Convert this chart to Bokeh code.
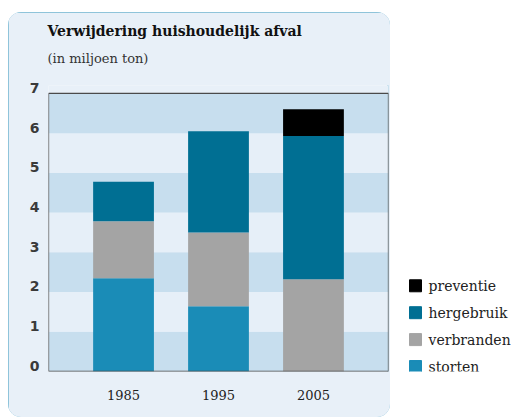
from bokeh.plotting import figure
from bokeh.models import (ColumnDataSource, FactorRange, Range1d, BoxAnnotation,
                          Title, FixedTicker, LinearAxis)
from bokeh.core.properties import value
from bokeh.layouts import row
from bokeh.embed import file_html
from bokeh.resources import INLINE

# ---- data ----
years = ["1985", "1995", "2005"]
storten = [2.35, 1.64, 0.0]
verbranden = [1.43, 1.86, 2.32]
hergebruik = [1.00, 2.55, 3.61]
preventie = [0.0, 0.0, 0.67]
series = ["storten", "verbranden", "hergebruik", "preventie"]
colors = ["#1a8cb7", "#a4a4a4", "#006f93", "#000000"]
y_ticks = [0, 1, 2, 3, 4, 5, 6, 7]
title_text = "Verwijdering huishoudelijk afval"
subtitle_text = "(in miljoen ton)"

BOX_BG = "#e8f0f8"
BAND_DARK = "#c7deee"
BAND_LIGHT = "#e6eff8"
Y_TOP = 7.2        # frame reaches a little above the top band
LABEL_SHIFT = 0.14  # tick labels sit slightly above their band edge

source = ColumnDataSource(dict(year=years, storten=storten, verbranden=verbranden,
                               hergebruik=hergebruik, preventie=preventie))

p = figure(width=382, height=405, output_backend="svg", toolbar_location=None,
           x_range=FactorRange(factors=years, range_padding=0.29,
                               range_padding_units="absolute", factor_padding=0),
           y_range=Range1d(0, Y_TOP), y_axis_location=None,
           min_border_left=40, min_border_right=2, min_border_top=73, min_border_bottom=46)
p.margin = (12, 0, 0, 8)
p.styles = {"border-radius": "13px", "overflow": "hidden",
            "outline": "3px solid #72b6d1", "outline-offset": "-3px"}
p.border_fill_color = BOX_BG
p.background_fill_color = BOX_BG
p.outline_line_color = None
p.grid.visible = False

for i in range(len(y_ticks) - 1):
    p.add_layout(BoxAnnotation(bottom=y_ticks[i], top=y_ticks[i + 1],
                               fill_color=BAND_DARK if i % 2 == 0 else BAND_LIGHT,
                               fill_alpha=1, line_color=None, level="underlay"))
p.add_layout(BoxAnnotation(bottom=y_ticks[0], top=y_ticks[-1], fill_color=None,
                           line_color="#4a4a4a", line_alpha=1, line_width=1.3,
                           level="overlay"))

p.vbar_stack(series, x="year", width=0.64, color=colors, line_color=None, source=source)

# y axis on a slightly shifted range so labels sit a bit above the band edges
p.extra_y_ranges = {"lab": Range1d(-LABEL_SHIFT, Y_TOP - LABEL_SHIFT)}
yax = LinearAxis(y_range_name="lab", ticker=FixedTicker(ticks=y_ticks))
yax.axis_line_color = None
yax.major_tick_line_color = None
yax.minor_tick_line_color = None
yax.major_tick_out = 0
yax.major_label_standoff = 9
yax.major_label_text_font = "DejaVu Sans"
yax.major_label_text_font_style = "bold"
yax.major_label_text_font_size = "14px"
yax.major_label_text_color = "#3a3a3a"
p.add_layout(yax, "left")

p.xaxis.axis_line_color = None
p.xaxis.major_tick_line_color = None
p.xaxis.major_tick_out = 0
p.xaxis.major_label_standoff = 18
p.xaxis.major_label_text_font = "DejaVu Serif"
p.xaxis.major_label_text_font_size = "13px"
p.xaxis.major_label_text_color = "#222222"

# titles (first added is closest to frame)
p.add_layout(Title(text=" ", text_font_size="3px", offset=0), "above")
p.add_layout(Title(text=subtitle_text, text_font="DejaVu Serif", text_font_size="13px",
                   text_font_style="normal", text_color="#333333", offset=-1), "above")
p.add_layout(Title(text=title_text, text_font="DejaVu Serif", text_font_size="14px",
                   text_font_style="bold", text_color="#111111", offset=-1), "above")

# legend panel: one row per series, bottom-up (storten lowest)
ROW_PX = 27
FRAME_PX = 299          # frame height of this panel (aligned with the chart's frame)
y_start = -5 / ROW_PX
lf = figure(width=126, height=417, output_backend="svg", toolbar_location=None,
            x_range=Range1d(0, 126), y_range=Range1d(y_start, y_start + FRAME_PX / ROW_PX),
            min_border=0, x_axis_location=None, y_axis_location=None)
lf.grid.visible = False
lf.outline_line_color = None
lf.background_fill_color = "white"
lf.border_fill_color = "white"
leg_src = ColumnDataSource(dict(name=series, color=colors,
                                idx=list(range(len(series))),
                                sx=[25] * len(series), tx=[38] * len(series)))
lf.scatter(x="sx", y="idx", marker="square", size=12, fill_color="color",
           line_color="color", source=leg_src)
lf.text(x="tx", y="idx", text="name", text_font=value("DejaVu Serif"),
        text_font_size="14px", text_color="#222222", text_baseline="middle",
        text_align="left", source=leg_src)

layout = row(p, lf)
open("out.html", "w").write(file_html(layout, INLINE))
